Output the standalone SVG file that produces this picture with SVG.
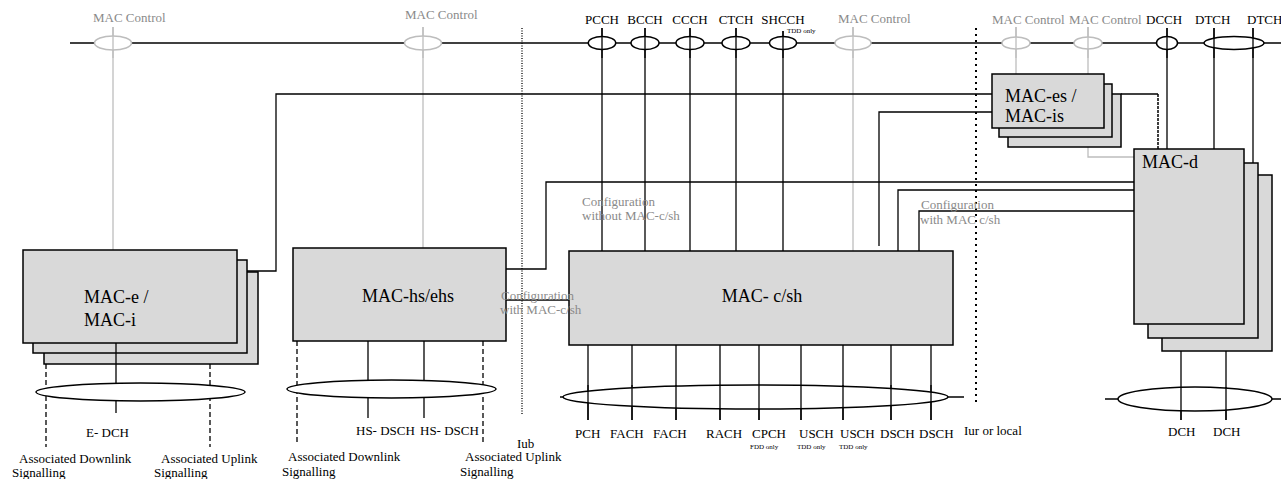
<svg xmlns="http://www.w3.org/2000/svg" width="1281" height="479" viewBox="0 0 1281 479" font-family="'Liberation Serif','Times New Roman','DejaVu Serif',serif">
<style>
text{font-family:"Liberation Serif","Times New Roman","DejaVu Serif",serif;fill:#000}
.big{font-size:18px}
.lbl{font-size:13px}
.gl{font-size:13px;fill:#8a8a8a}
.tiny{font-size:7px}
.box{fill:#d9d9d9;stroke:#000;stroke-width:1.5}
.ln{fill:none;stroke:#000;stroke-width:1.3}
.gr{fill:none;stroke:#bdbdbd;stroke-width:1.3}
.dash{fill:none;stroke:#000;stroke-width:1.3;stroke-dasharray:5,3}
.ell{fill:#fff;stroke:#000;stroke-width:1.5}
.gell{fill:#fff;stroke:#bdbdbd;stroke-width:1.5}
</style>
<rect width="1281" height="479" fill="#fff"/>
<g id="connectors">
<line class="ln" x1="70" y1="43" x2="1281" y2="43"/>
<line x1="522" y1="28" x2="522" y2="415" stroke="#000" stroke-width="1.3" stroke-dasharray="1,1.5"/>
<line x1="976" y1="28" x2="976" y2="405" stroke="#000" stroke-width="2" stroke-dasharray="2,4"/>
<line class="gr" x1="113" y1="27" x2="113" y2="250"/>
<line class="gr" x1="423" y1="27" x2="423" y2="248"/>
<line class="gr" x1="853" y1="27" x2="853" y2="251"/>
<line class="gr" x1="1016" y1="27" x2="1016" y2="74"/>
<line class="gr" x1="1088" y1="27" x2="1088" y2="74"/>
<polyline class="gr" points="1088,147 1088,157 1134,157"/>
<line class="ln" x1="602" y1="28" x2="602" y2="251"/>
<line class="ln" x1="645" y1="28" x2="645" y2="251"/>
<line class="ln" x1="690" y1="28" x2="690" y2="251"/>
<line class="ln" x1="736" y1="28" x2="736" y2="251"/>
<line class="ln" x1="783" y1="31" x2="783" y2="251"/>
<line class="ln" x1="1167" y1="28" x2="1167" y2="149"/>
<line class="ln" x1="1214" y1="28" x2="1214" y2="149"/>
<line class="ln" x1="1253" y1="28" x2="1253" y2="163"/>
<polyline class="ln" points="247,271 276,271 276,94 992,94"/>
<polyline class="ln" points="1121,94 1158,94"/>
<line x1="1158" y1="94" x2="1158" y2="149" stroke="#000" stroke-width="1.5" stroke-dasharray="3,1"/>
<polyline class="ln" points="879,246 879,112 992,112"/>
<polyline class="ln" points="506,269 546,269 546,182 1134,182"/>
<polyline class="ln" points="898,251 898,190 1138,190"/>
<polyline class="ln" points="919,251 919,211 1134,211"/>
<line class="ln" x1="506" y1="300" x2="569" y2="300"/>
<line class="ln" x1="116" y1="343" x2="116" y2="413"/>
<line class="dash" x1="46" y1="364" x2="46" y2="447"/>
<line class="dash" x1="210" y1="364" x2="210" y2="447"/>
<line class="ln" x1="368" y1="341" x2="368" y2="418"/>
<line class="ln" x1="424" y1="341" x2="424" y2="418"/>
<line class="dash" x1="297" y1="341" x2="297" y2="445"/>
<line class="dash" x1="483" y1="341" x2="483" y2="445"/>
<line class="ln" x1="560" y1="397" x2="964" y2="397"/>
<g class="ln">
<line x1="588" y1="345" x2="588" y2="420"/>
<line x1="632" y1="345" x2="632" y2="420"/>
<line x1="676" y1="345" x2="676" y2="420"/>
<line x1="720" y1="345" x2="720" y2="420"/>
<line x1="759" y1="345" x2="759" y2="420"/>
<line x1="801" y1="345" x2="801" y2="420"/>
<line x1="843" y1="345" x2="843" y2="420"/>
<line x1="891" y1="345" x2="891" y2="420"/>
<line x1="931" y1="345" x2="931" y2="420"/>
</g>
<line class="ln" x1="1105" y1="399" x2="1281" y2="399"/>
<line class="ln" x1="1181" y1="351" x2="1181" y2="420"/>
<line class="ln" x1="1226" y1="351" x2="1226" y2="420"/>
</g>
<g id="transport-channels">
<ellipse class="gell" cx="113" cy="43" rx="18.5" ry="7"/>
<ellipse class="gell" cx="423" cy="43" rx="18.5" ry="7"/>
<ellipse class="gell" cx="853" cy="43" rx="18" ry="7"/>
<ellipse class="gell" cx="1016" cy="43" rx="14" ry="6"/>
<ellipse class="gell" cx="1088" cy="43" rx="14" ry="6"/>
<ellipse class="ell" cx="602" cy="43" rx="13.7" ry="6.5"/>
<ellipse class="ell" cx="645" cy="43" rx="14" ry="6.5"/>
<ellipse class="ell" cx="690" cy="43" rx="14" ry="6.5"/>
<ellipse class="ell" cx="736" cy="43" rx="14" ry="6.5"/>
<ellipse class="ell" cx="783" cy="43" rx="13.5" ry="6.5"/>
<ellipse class="ell" cx="1167" cy="43" rx="10.5" ry="6.5"/>
<ellipse class="ell" cx="1234" cy="43" rx="30" ry="6.5"/>
<line class="ln" x1="602" y1="28" x2="602" y2="58"/>
<line class="ln" x1="645" y1="28" x2="645" y2="58"/>
<line class="ln" x1="690" y1="28" x2="690" y2="58"/>
<line class="ln" x1="736" y1="28" x2="736" y2="58"/>
<line class="ln" x1="783" y1="31" x2="783" y2="58"/>
<line class="ln" x1="1167" y1="28" x2="1167" y2="58"/>
<line class="ln" x1="1214" y1="28" x2="1214" y2="58"/>
<line class="ln" x1="1253" y1="28" x2="1253" y2="58"/>
<line class="gr" x1="113" y1="27" x2="113" y2="58"/>
<line class="gr" x1="423" y1="27" x2="423" y2="58"/>
<line class="gr" x1="853" y1="27" x2="853" y2="58"/>
<line class="gr" x1="1016" y1="27" x2="1016" y2="58"/>
<line class="gr" x1="1088" y1="27" x2="1088" y2="58"/>
<text class="gl" x="93" y="22">MAC Control</text>
<text class="gl" x="405" y="19">MAC Control</text>
<text class="gl" x="838" y="23">MAC Control</text>
<text class="gl" x="992" y="24">MAC Control</text>
<text class="gl" x="1069" y="24">MAC Control</text>
<text class="lbl" x="602" y="24" text-anchor="middle">PCCH</text>
<text class="lbl" x="645" y="24" text-anchor="middle">BCCH</text>
<text class="lbl" x="690" y="24" text-anchor="middle">CCCH</text>
<text class="lbl" x="736" y="24" text-anchor="middle">CTCH</text>
<text class="lbl" x="783" y="24" text-anchor="middle">SHCCH</text>
<text class="tiny" x="787" y="33">TDD only</text>
<text class="lbl" x="1146" y="24">DCCH</text>
<text class="lbl" x="1195" y="24">DTCH</text>
<text class="lbl" x="1247" y="24">DTCH</text>
</g>
<g id="mac-e">
<rect class="box" x="44" y="272" width="214" height="92"/>
<rect class="box" x="33" y="260" width="214" height="93"/>
<rect class="box" x="23" y="250" width="214" height="93"/>
<text class="big" x="84" y="303">MAC-e /</text>
<text class="big" x="84" y="326">MAC-i</text>
<line class="ln" x1="116" y1="343" x2="116" y2="364"/>
</g>
<g id="mac-hs">
<rect class="box" x="293" y="248" width="213" height="93"/>
<text class="big" x="408" y="302" text-anchor="middle">MAC-hs/ehs</text>
</g>
<g id="mac-csh">
<rect class="box" x="569" y="251" width="384" height="94"/>
<text class="big" x="762" y="302" text-anchor="middle">MAC- c/sh</text>
</g>
<g id="mac-es">
<rect class="box" x="1008" y="94" width="113" height="53"/>
<rect class="box" x="999" y="84" width="113" height="53"/>
<rect class="box" x="992" y="74" width="112" height="54"/>
<text class="big" x="1005" y="102">MAC-es  /</text>
<text class="big" x="1005" y="122">MAC-is</text>
</g>
<g id="mac-d">
<rect class="box" x="1162" y="175" width="110" height="176"/>
<rect class="box" x="1148" y="163" width="110" height="175"/>
<rect class="box" x="1134" y="149" width="110" height="175"/>
<text class="big" x="1142" y="168">MAC-d</text>
</g>
<g id="edch">
<ellipse class="ell" cx="140.5" cy="392" rx="104.5" ry="9"/>
<text class="lbl" x="86" y="437">E- DCH</text>
<text class="lbl" x="19" y="463">Associated Downlink</text>
<text class="lbl" x="12" y="477">Signalling</text>
<text class="lbl" x="161" y="463">Associated Uplink</text>
<text class="lbl" x="154" y="477">Signalling</text>
</g>
<g id="hsdsch">
<ellipse class="ell" cx="391.5" cy="389" rx="104.5" ry="9"/>
<text class="lbl" x="356" y="435">HS- DSCH</text>
<text class="lbl" x="420" y="435">HS- DSCH</text>
<text class="lbl" x="288" y="461">Associated Downlink</text>
<text class="lbl" x="282" y="476">Signalling</text>
<text class="lbl" x="465" y="461">Associated Uplink</text>
<text class="lbl" x="460" y="476">Signalling</text>
<text class="lbl" x="517" y="448">Iub</text>
</g>
<g id="common-transport">
<ellipse class="ell" cx="755.5" cy="397" rx="192.5" ry="12"/>
<g class="ln">
<line x1="588" y1="385" x2="588" y2="420"/>
<line x1="632" y1="385" x2="632" y2="420"/>
<line x1="676" y1="385" x2="676" y2="420"/>
<line x1="720" y1="385" x2="720" y2="420"/>
<line x1="759" y1="385" x2="759" y2="420"/>
<line x1="801" y1="385" x2="801" y2="420"/>
<line x1="843" y1="385" x2="843" y2="420"/>
<line x1="891" y1="385" x2="891" y2="420"/>
<line x1="931" y1="385" x2="931" y2="420"/>
</g>
<text class="lbl" x="575" y="438">PCH</text>
<text class="lbl" x="610" y="438">FACH</text>
<text class="lbl" x="653" y="438">FACH</text>
<text class="lbl" x="706" y="438">RACH</text>
<text class="lbl" x="752" y="438">CPCH</text>
<text class="lbl" x="799" y="438">USCH</text>
<text class="lbl" x="840" y="438">USCH</text>
<text class="lbl" x="880" y="438">DSCH</text>
<text class="lbl" x="919" y="438">DSCH</text>
<text class="tiny" x="750" y="449">FDD only</text>
<text class="tiny" x="797" y="449">TDD only</text>
<text class="tiny" x="839" y="449">TDD only</text>
<text class="lbl" x="964" y="435">Iur or local</text>
</g>
<g id="dch">
<ellipse class="ell" cx="1195" cy="399" rx="77" ry="12"/>
<line class="ln" x1="1181" y1="387" x2="1181" y2="420"/>
<line class="ln" x1="1226" y1="387" x2="1226" y2="420"/>
<text class="lbl" x="1168" y="436">DCH</text>
<text class="lbl" x="1213" y="436">DCH</text>
</g>
<g id="config-labels">
<text class="gl" x="582" y="206">Configuration</text>
<text class="gl" x="582" y="220">without MAC-c/sh</text>
<text class="gl" x="501" y="300">Configuration</text>
<text class="gl" x="500" y="314">with MAC-c/sh</text>
<text class="gl" x="921" y="209">Configuration</text>
<text class="gl" x="920" y="224">with MAC c/sh</text>
</g>
</svg>
